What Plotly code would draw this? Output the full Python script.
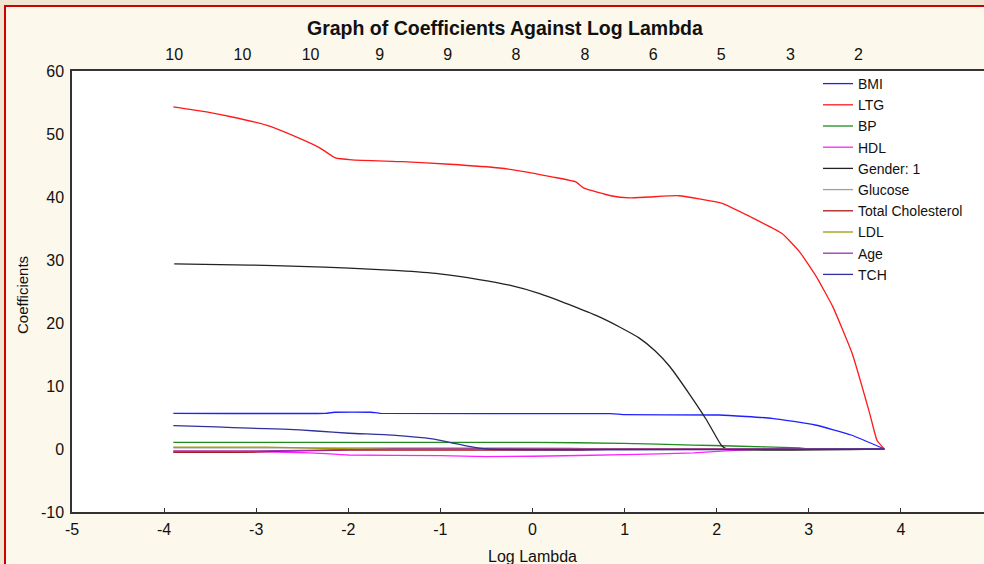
import plotly.graph_objects as go

# ---------------- data ----------------
bmi_x = [-3.90, -2.25, -2.15, -1.75, -1.65, 0.85, 1.00, 2.03, 2.60, 3.07, 3.46, 3.82]
bmi_y = [5.67, 5.67, 5.83, 5.83, 5.67, 5.60, 5.45, 5.40, 4.87, 3.81, 2.22, 0.0]

ltg_x = [-3.90, -3.54, -3.26, -2.89, -2.56, -2.31, -2.14, -1.96, -1.41, -0.90, -0.36, 0.00,
         0.21, 0.47, 0.56, 0.85, 1.05, 1.27, 1.59, 2.06, 2.36, 2.71, 2.90, 3.08, 3.26, 3.47,
         3.66, 3.74, 3.82]
ltg_y = [54.3, 53.5, 52.7, 51.4, 49.5, 47.8, 46.2, 45.9, 45.6, 45.2, 44.6, 43.8,
         43.2, 42.4, 41.4, 40.2, 39.85, 40.0, 40.2, 39.0, 36.9, 34.2, 31.3, 27.4, 22.6, 15.2,
         5.7, 1.4, 0.0]

bp_x = [-3.90, 0.00, 0.98, 1.74, 2.17, 2.90, 3.00, 3.82]
bp_y = [1.06, 1.06, 0.90, 0.63, 0.48, 0.17, 0.0, 0.0]

hdl_x = [-3.90, -2.90, -2.42, -2.00, -1.00, -0.50, 0.00, 1.00, 1.75, 2.10, 2.50, 3.82]
hdl_y = [-0.40, -0.45, -0.60, -0.95, -1.05, -1.20, -1.15, -0.90, -0.60, -0.30, 0.0, 0.0]

gender_x = [-3.89, -3.07, -2.53, -1.99, -1.45, -1.01, -0.58, -0.25, 0.07, 0.40, 0.72, 0.94,
            1.16, 1.33, 1.49, 1.70, 1.89, 2.05, 2.11, 3.82]
gender_y = [29.4, 29.2, 29.0, 28.7, 28.3, 27.8, 26.9, 26.0, 24.7, 22.9, 21.0, 19.4,
            17.6, 15.6, 13.1, 8.8, 4.6, 0.6, 0.0, 0.0]

glucose_x = [-3.90, 0.40, 0.80, 3.82]
glucose_y = [0.20, 0.15, 0.0, 0.0]

chol_x = [-3.90, -3.20, -2.70, -2.00, 0.50, 0.90, 3.82]
chol_y = [-0.55, -0.55, -0.35, -0.16, -0.16, 0.0, 0.0]

ldl_x = [-3.90, -2.90, -2.30, -1.90, 3.82]
ldl_y = [0.30, 0.30, 0.10, 0.0, 0.0]

age_x = [-3.90, -3.00, -2.00, -1.50, 3.82]
age_y = [-0.30, -0.30, -0.10, 0.0, 0.0]

tch_x = [-3.90, -3.43, -3.07, -2.71, -2.35, -1.99, -1.52, -1.09, -0.87, -0.72, -0.50, 3.82]
tch_y = [3.70, 3.50, 3.30, 3.17, 2.86, 2.50, 2.20, 1.60, 0.95, 0.50, 0.0, 0.0]

top_tick_pos = [-3.89, -3.15, -2.41, -1.66, -0.92, -0.18, 0.57, 1.31, 2.05, 2.80, 3.54]
top_tick_text = ["10", "10", "10", "9", "9", "8", "8", "6", "5", "3", "2"]

x_ticks = [-5, -4, -3, -2, -1, 0, 1, 2, 3, 4]
y_ticks = [-10, 0, 10, 20, 30, 40, 50, 60]

series = [
    ("BMI", bmi_x, bmi_y, "#2020FF"),
    ("LTG", ltg_x, ltg_y, "#FF1A1A"),
    ("BP", bp_x, bp_y, "#1E8C1E"),
    ("HDL", hdl_x, hdl_y, "#FF22FF"),
    ("Gender: 1", gender_x, gender_y, "#222222"),
    ("Glucose", glucose_x, glucose_y, "#A0A0A0"),
    ("Total Cholesterol", chol_x, chol_y, "#A81818"),
    ("LDL", ldl_x, ldl_y, "#9C9C10"),
    ("Age", age_x, age_y, "#A030B0"),
    ("TCH", tch_x, tch_y, "#30309A"),
]

# ---------------- layout geometry ----------------
W, H = 984, 564
ML, MR, MT, MB = 72, 0, 71, 52
PW, PH = W - ML - MR, H - MT - MB
X0 = -5
XPX = 92.1
XMAX = X0 + PW / XPX


def px2x(px):
    return (px - ML) / PW


def py2y(py):
    return (H - MB - py) / PH


FONT = "Liberation Sans, Arial, sans-serif"
TICK = 16

fig = go.Figure()
for name, xs, ys, col in series:
    fig.add_trace(go.Scatter(x=xs, y=ys, mode="lines", name=name,
                             line=dict(color=col, width=1.3, shape="spline",
                                       smoothing=0.4)))

# invisible trace for top axis
fig.add_trace(go.Scatter(x=[top_tick_pos[0]], y=[0], xaxis="x2", mode="markers",
                         marker=dict(opacity=0), showlegend=False, hoverinfo="skip"))

fig.update_layout(
    width=W, height=H,
    margin=dict(l=ML, r=MR, t=MT, b=MB, pad=0),
    paper_bgcolor="#FDF8EC",
    plot_bgcolor="#FFFFFF",
    font=dict(family=FONT, size=TICK, color="#111111"),
    showlegend=True,
    legend=dict(x=px2x(818), y=py2y(68), xanchor="left", yanchor="top",
                bgcolor="rgba(0,0,0,0)", borderwidth=0,
                font=dict(family=FONT, size=14, color="#111111"),
                itemwidth=30),
    xaxis=dict(range=[X0, XMAX], tickvals=x_ticks, ticktext=[str(v) for v in x_ticks],
               showgrid=False, zeroline=False, showline=True, linecolor="#333333",
               linewidth=1.5, ticks="inside", ticklen=4, tickcolor="#333333",
               ticklabelstandoff=2,
               tickfont=dict(size=TICK, family=FONT), mirror=False),
    xaxis2=dict(range=[X0, XMAX], overlaying="x", side="top", tickvals=top_tick_pos,
                ticktext=top_tick_text, showgrid=False, zeroline=False, showline=True,
                linecolor="#333333", linewidth=1.5, ticks="", ticklabelstandoff=3,
                tickfont=dict(size=TICK, family=FONT)),
    yaxis=dict(range=[-10, 60], tickvals=y_ticks, ticktext=[str(v) for v in y_ticks],
               showgrid=False, zeroline=False,
               showline=True, linecolor="#333333", linewidth=1.5, ticks="",
               ticklabelstandoff=3,
               tickfont=dict(size=TICK, family=FONT), mirror=False),
    annotations=[
        dict(text="<b>Graph of Coefficients Against Log Lambda</b>", xref="paper",
             yref="paper", x=px2x(505), y=py2y(28), xanchor="center", yanchor="middle",
             showarrow=False, font=dict(size=19.5, family=FONT, color="#111111")),
        dict(text="Log Lambda", xref="paper", yref="paper", x=px2x(532), y=py2y(556),
             xanchor="center", yanchor="middle", showarrow=False,
             font=dict(size=16, family=FONT, color="#111111")),
        dict(text="Coefficients", xref="paper", yref="paper", x=px2x(22), y=py2y(295),
             xanchor="center", yanchor="middle", textangle=-90, showarrow=False,
             font=dict(size=15, family=FONT, color="#111111")),
    ],
    shapes=[
        dict(type="rect", xref="paper", yref="paper", x0=px2x(-2), x1=px2x(W + 2),
             y0=py2y(5), y1=py2y(-2), fillcolor="#EFE5D0", line=dict(width=0)),
        dict(type="rect", xref="paper", yref="paper", x0=px2x(-2), x1=px2x(4),
             y0=py2y(H + 2), y1=py2y(-2), fillcolor="#EFE5D0", line=dict(width=0)),
        dict(type="line", xref="paper", yref="paper", x0=px2x(4), x1=px2x(W + 2),
             y0=py2y(6), y1=py2y(6), line=dict(color="#CC0000", width=2)),
        dict(type="line", xref="paper", yref="paper", x0=px2x(5), x1=px2x(5),
             y0=py2y(5), y1=py2y(H + 2), line=dict(color="#CC0000", width=2)),
    ],
)

fig.write_html("out.html")
